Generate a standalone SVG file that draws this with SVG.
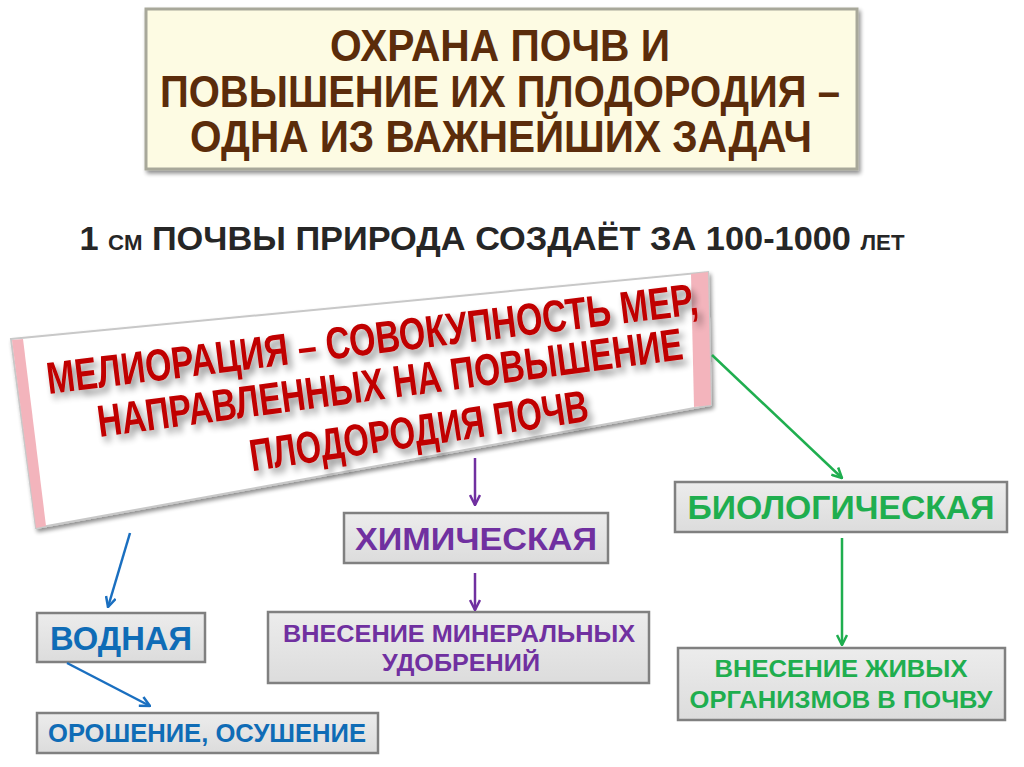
<svg xmlns="http://www.w3.org/2000/svg" width="1024" height="767" viewBox="0 0 1024 767">
<defs>
<style>
.t{font-family:"Liberation Sans",Arial,sans-serif;font-weight:bold;text-anchor:middle}
.box{fill:url(#gb);stroke:#808080;stroke-width:2.5}
.blue{stroke:#1a6fc0;stroke-width:2.5;fill:none}
.purple{stroke:#7030a0;stroke-width:2.5;fill:none}
.green{stroke:#1fae4f;stroke-width:2.5;fill:none}
</style>
<linearGradient id="gb" x1="0" y1="0" x2="0" y2="1">
<stop offset="0" stop-color="#ececec"/><stop offset="1" stop-color="#dcdcdc"/>
</linearGradient>
<filter id="sh" x="-10%" y="-10%" width="120%" height="130%">
<feGaussianBlur in="SourceAlpha" stdDeviation="2"/><feOffset dx="2" dy="3"/>
<feComponentTransfer><feFuncA type="linear" slope="0.45"/></feComponentTransfer>
<feMerge><feMergeNode/><feMergeNode in="SourceGraphic"/></feMerge>
</filter>
<filter id="tsh" x="-10%" y="-20%" width="120%" height="150%">
<feGaussianBlur in="SourceAlpha" stdDeviation="3.5"/><feOffset dx="4" dy="5"/>
<feComponentTransfer><feFuncA type="linear" slope="0.45"/></feComponentTransfer>
<feMerge><feMergeNode/><feMergeNode in="SourceGraphic"/></feMerge>
</filter>
<marker id="mb" viewBox="0 0 12 12" refX="11" refY="6" markerWidth="12" markerHeight="12" markerUnits="userSpaceOnUse" orient="auto"><path d="M1,1 L11,6 L1,11" fill="none" stroke="#1a6fc0" stroke-width="2.5"/></marker>
<marker id="mp" viewBox="0 0 12 12" refX="11" refY="6" markerWidth="12" markerHeight="12" markerUnits="userSpaceOnUse" orient="auto"><path d="M1,1 L11,6 L1,11" fill="none" stroke="#7030a0" stroke-width="2.5"/></marker>
<marker id="mg" viewBox="0 0 12 12" refX="11" refY="6" markerWidth="12" markerHeight="12" markerUnits="userSpaceOnUse" orient="auto"><path d="M1,1 L11,6 L1,11" fill="none" stroke="#1fae4f" stroke-width="2.5"/></marker>
</defs>
<rect width="1024" height="767" fill="#ffffff"/>

<g id="title">
<rect x="146" y="9" width="711" height="160" fill="#fdfbe3" stroke="#a8a89a" stroke-width="3" filter="url(#sh)"/>
<text class="t" x="500" y="61" font-size="44" fill="#5b2c0b" textLength="340" lengthAdjust="spacingAndGlyphs">ОХРАНА ПОЧВ И</text>
<text class="t" x="500" y="107" font-size="44" fill="#5b2c0b" textLength="680" lengthAdjust="spacingAndGlyphs">ПОВЫШЕНИЕ ИХ ПЛОДОРОДИЯ –</text>
<text class="t" x="501" y="152" font-size="44" fill="#5b2c0b" textLength="622" lengthAdjust="spacingAndGlyphs">ОДНА ИЗ ВАЖНЕЙШИХ ЗАДАЧ</text>
</g>

<g id="subtitle">
<text class="t" x="492" y="250" font-size="34" fill="#262626" textLength="825" lengthAdjust="spacingAndGlyphs">1 <tspan font-size="22">СМ</tspan> ПОЧВЫ ПРИРОДА СОЗДАЁТ ЗА 100-1000 <tspan font-size="22">ЛЕТ</tspan></text>
</g>

<g id="melioration">
<polygon points="11,339 708,272 711,405 36,528" fill="#ffffff" stroke="#c8c8c8" stroke-width="2" filter="url(#sh)"/>
<polygon points="12,340 23,339 46,526 36,528" fill="#f3b4bc"/>
<polygon points="691,274 708,272 711,405 694,407" fill="#f3b4bc"/>
<g filter="url(#tsh)" fill="#c00000">
<text class="t" transform="rotate(-7 374 354)" x="374" y="354" font-size="45" textLength="656" lengthAdjust="spacingAndGlyphs">МЕЛИОРАЦИЯ – СОВОКУПНОСТЬ МЕР,</text>
<text class="t" transform="rotate(-7.6 392 398)" x="392" y="398" font-size="45" textLength="590" lengthAdjust="spacingAndGlyphs">НАПРАВЛЕННЫХ НА ПОВЫШЕНИЕ</text>
<text class="t" transform="rotate(-8.5 421 446)" x="421" y="446" font-size="45" textLength="342" lengthAdjust="spacingAndGlyphs">ПЛОДОРОДИЯ ПОЧВ</text>
</g>
</g>

<g id="vodnaya">
<rect class="box" x="37" y="613" width="168" height="49"/>
<text class="t" x="121" y="650" font-size="33" fill="#0f6cb6" textLength="142" lengthAdjust="spacingAndGlyphs">ВОДНАЯ</text>
</g>
<g id="oroshenie">
<rect class="box" x="37" y="713" width="341" height="40"/>
<text class="t" x="207" y="742" font-size="25" fill="#0f6cb6" textLength="318" lengthAdjust="spacingAndGlyphs">ОРОШЕНИЕ, ОСУШЕНИЕ</text>
</g>
<g id="himicheskaya">
<rect class="box" x="344" y="513" width="264" height="50"/>
<text class="t" x="476" y="550" font-size="32" fill="#7030a0" textLength="242" lengthAdjust="spacingAndGlyphs">ХИМИЧЕСКАЯ</text>
</g>
<g id="mineral">
<rect class="box" x="268" y="612" width="381" height="71"/>
<text class="t" x="459" y="642" font-size="24" fill="#7030a0" textLength="352" lengthAdjust="spacingAndGlyphs">ВНЕСЕНИЕ МИНЕРАЛЬНЫХ</text>
<text class="t" x="461" y="671" font-size="24" fill="#7030a0" textLength="158" lengthAdjust="spacingAndGlyphs">УДОБРЕНИЙ</text>
</g>
<g id="biologicheskaya">
<rect class="box" x="675" y="482" width="332" height="50"/>
<text class="t" x="841" y="519" font-size="33" fill="#1fae4f" textLength="307" lengthAdjust="spacingAndGlyphs">БИОЛОГИЧЕСКАЯ</text>
</g>
<g id="organisms">
<rect class="box" x="678" y="648" width="327" height="72"/>
<text class="t" x="841" y="677" font-size="24" fill="#1fae4f" textLength="253" lengthAdjust="spacingAndGlyphs">ВНЕСЕНИЕ ЖИВЫХ</text>
<text class="t" x="841" y="708" font-size="24" fill="#1fae4f" textLength="303" lengthAdjust="spacingAndGlyphs">ОРГАНИЗМОВ В ПОЧВУ</text>
</g>

<g id="connectors">
<line class="blue" x1="130" y1="533" x2="108" y2="607" marker-end="url(#mb)"/>
<line class="blue" x1="67" y1="663" x2="150" y2="706" marker-end="url(#mb)"/>
<line class="purple" x1="475" y1="458" x2="475" y2="505" marker-end="url(#mp)"/>
<line class="purple" x1="475" y1="573" x2="475" y2="610" marker-end="url(#mp)"/>
<line class="green" x1="712" y1="355" x2="842" y2="478" marker-end="url(#mg)"/>
<line class="green" x1="842" y1="538" x2="842" y2="645" marker-end="url(#mg)"/>
</g>
</svg>
